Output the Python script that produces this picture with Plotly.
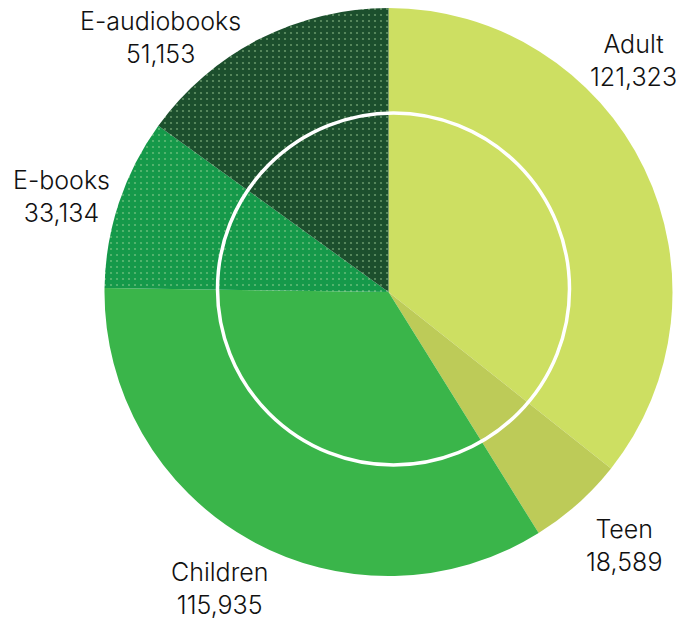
import plotly.graph_objects as go

categories = ["Adult", "Teen", "Children", "E-books", "E-audiobooks"]
values = [121323, 18589, 115935, 33134, 51153]
colors = ["#CDDF62", "#BDCB58", "#3AB54A", "#15994A", "#1C4F2D"]
patterns = ["", "", "", ".", "."]

# label anchor positions (paper coords) for the outside labels
label_pos = {
    "Adult": (633, 60),
    "Teen": (624, 545),
    "Children": (219, 588),
    "E-books": (62, 196),
    "E-audiobooks": (160, 38),
}

W, H = 688, 620
cx, cy, r = 388.5, 292, 284

fig = go.Figure(go.Pie(
    labels=categories,
    values=values,
    sort=False,
    direction="clockwise",
    rotation=0,
    textinfo="none",
    hoverinfo="label+value",
    marker=dict(
        colors=colors,
        line=dict(width=0),
        pattern=dict(shape=patterns, fgcolor="#A9D9A0", fgopacity=0.5,
                     size=6, solidity=0.1, fillmode="overlay"),
    ),
    domain=dict(x=[(cx - r) / W, (cx + r) / W], y=[1 - (cy + r) / H, 1 - (cy - r) / H]),
    showlegend=False,
))

for name, val in zip(categories, values):
    x, y = label_pos[name]
    fig.add_annotation(
        x=x / W, y=1 - y / H, xref="paper", yref="paper",
        text=f"{name}<br>{val:,}", showarrow=False,
        font=dict(family="Inter, Roboto, sans-serif", size=25, color="#111111", weight=350),
        align="center", xanchor="center", yanchor="middle",
    )

# inner white ring
icx, icy, ir = 393.5, 289, 176
fig.add_shape(type="circle", xref="paper", yref="paper",
              x0=(icx - ir) / W, x1=(icx + ir) / W,
              y0=1 - (icy + ir) / H, y1=1 - (icy - ir) / H,
              line=dict(color="white", width=3.5), fillcolor="rgba(0,0,0,0)")

fig.update_layout(
    width=W, height=H,
    margin=dict(l=0, r=0, t=0, b=0),
    paper_bgcolor="white", plot_bgcolor="white",
)

fig.write_html("out.html")
